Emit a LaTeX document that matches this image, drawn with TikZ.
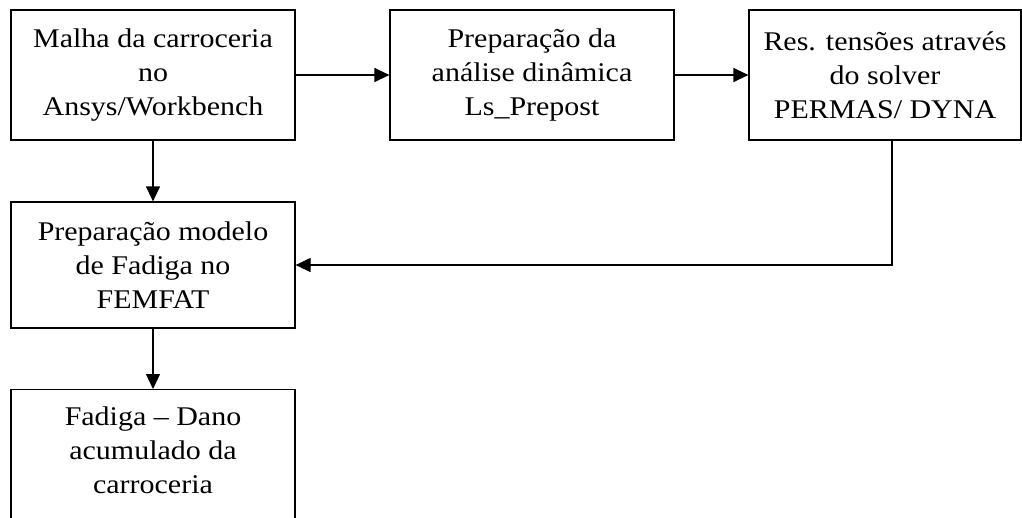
\documentclass[tikz,border=0pt]{standalone}
\usepackage{fontspec}
\setmainfont[FakeStretch=1.11]{Liberation Serif}
\usetikzlibrary{arrows.meta}
\begin{document}
\begin{tikzpicture}[x=1pt,y=-1pt,
  stepbox/.style={draw, line width=1.2pt, align=center, inner sep=0pt,
    font=\fontsize{27}{34}\selectfont},
  flow/.style={line width=1.2pt, -{Triangle[length=15pt,width=14pt]}}]
  \useasboundingbox (0,0) rectangle (1022,517);
  \clip (0,0) rectangle (1022,517);
  \node (n1) [stepbox, minimum width=284pt, minimum height=130pt] at (153,75)
    {Malha da carroceria\\no\\Ansys/Workbench};
  \node (n2) [stepbox, minimum width=284pt, minimum height=130pt] at (532,75)
    {Preparação da\\análise dinâmica\\Ls\_Prepost};
  \node (n3) [stepbox, minimum width=272pt, minimum height=130pt] at (885,75)
    {Res. tensões através\\do solver\\PERMAS/ DYNA};
  \node (n4) [stepbox, minimum width=284pt, minimum height=126pt] at (153,265)
    {Preparação modelo\\de Fadiga no\\FEMFAT};
  % last box runs past the lower edge of the page
  \node (n5box) [stepbox, minimum width=284pt, minimum height=170pt, anchor=north] at (153,389) {};
  \node (n5) [align=center, inner sep=0pt, font=\fontsize{27}{34}\selectfont] at (153,450)
    {Fadiga – Dano\\acumulado da\\carroceria};
  \coordinate (c3) at (892,140);
  \coordinate (turn) at (892,265);
  \draw[flow] (n1) -- (n2);
  \draw[flow] (n2) -- (n3);
  \draw[flow] (n1) -- (n4);
  \draw[flow] (n4) -- (n5box);
  \draw[flow] (c3) -- (turn) -- (n4.east);
\end{tikzpicture}
\end{document}
